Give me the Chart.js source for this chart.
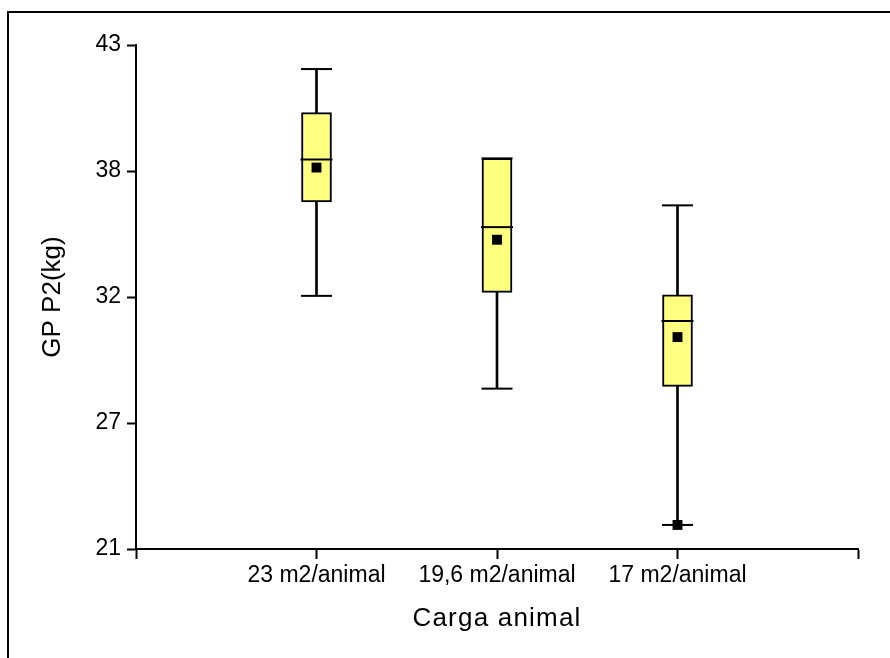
<!DOCTYPE html>
<html lang="es">
<head>
  <meta charset="UTF-8">
  <title>GP P2 según carga animal</title>
  <style>
    html, body {
      margin: 0;
      padding: 0;
      background: white;
      overflow: hidden;
    }
    .frame {
      position: absolute;
      left: 7px;
      top: 11px;
      width: 900px;
      height: 700px;
      border-left: 2px solid black;
      border-top: 2px solid black;
    }
    .chart-box {
      position: absolute;
      left: 0;
      top: 0;
      width: 890px;
      height: 658px;
    }
  </style>
</head>
<body>
  <div class="frame"></div>
  <div class="chart-box">
    <canvas id="box-chart"></canvas>
  </div>

  <script src="https://cdn.jsdelivr.net/npm/chart.js@4.4.0/dist/chart.umd.min.js"></script>
  <script>
    // categorías (posición 1..3 en el eje x)
    const CATEGORIES = ['23 m2/animal', '19,6 m2/animal', '17 m2/animal'];
    const MINS    = [32.05, 28.0, 22.05];
    const Q1S     = [36.15, 32.2, 28.1];
    const MEDIANS = [38.0, 35.05, 30.95];
    const Q3S     = [40.05, 38.05, 32.1];
    const MAXS    = [41.95, 38.05, 36.0];
    const MEANS   = [37.65, 34.5, 30.25];
    const OUTLIERS = [[], [], [22.05]];
    const Y_TICKS = { min: 21, max: 43, step: 5.5 };

    const FONT = "'Liberation Sans', Arial, sans-serif";
    const BOX_FILL = '#FFFF80';

    const xs = CATEGORIES.map((c, i) => i + 1);
    const pts = (vals) => vals.map((v, i) => ({ x: xs[i], y: v }));

    const whiskers = xs.map((x, i) => ({ x, y: [MINS[i], MAXS[i]] }));
    const boxes = xs.map((x, i) => ({ x, y: [Q1S[i], Q3S[i]] }));
    const caps = [...pts(MINS), ...pts(MAXS)];
    const outliers = OUTLIERS.flatMap((vs, i) => vs.map(v => ({ x: xs[i], y: v })));

    // título del eje x con un poco de espaciado entre letras
    function spacedTitle(scale) {
      if (scale._spaced) return;
      scale._spaced = true;
      const orig = scale.drawTitle;
      scale.drawTitle = function() {
        this.ctx.save();
        this.ctx.letterSpacing = '1.2px';
        orig.call(this);
        this.ctx.restore();
      };
    }

    new Chart(document.getElementById('box-chart'), {
      type: 'bar',
      data: {
        datasets: [
          {
            label: 'bigotes',
            data: whiskers,
            backgroundColor: 'black',
            borderWidth: 0,
            barThickness: 2,
            grouped: false,
            order: 5
          },
          {
            label: 'caja',
            data: boxes,
            backgroundColor: BOX_FILL,
            borderColor: 'black',
            borderWidth: 2,
            borderSkipped: false,
            barThickness: 30,
            grouped: false,
            order: 4
          },
          {
            type: 'scatter',
            label: 'extremos',
            data: caps,
            pointStyle: 'line',
            radius: 15.5,
            borderColor: 'black',
            borderWidth: 2,
            order: 3
          },
          {
            type: 'scatter',
            label: 'mediana',
            data: pts(MEDIANS),
            pointStyle: 'line',
            radius: 16,
            borderColor: 'black',
            borderWidth: 2,
            order: 2
          },
          {
            type: 'scatter',
            label: 'media',
            data: [...pts(MEANS), ...outliers],
            pointStyle: 'rect',
            radius: 7,
            backgroundColor: 'black',
            borderWidth: 0,
            order: 1
          }
        ]
      },
      options: {
        responsive: true,
        maintainAspectRatio: false,
        animation: false,
        events: [],
        layout: {
          padding: { left: 0, top: 45, right: 32, bottom: 0 }
        },
        plugins: {
          legend: { display: false },
          tooltip: { enabled: false }
        },
        scales: {
          x: {
            type: 'linear',
            min: 0,
            max: 4,
            offset: false,
            afterFit: (scale) => { scale.height = 109; spacedTitle(scale); },
            border: { display: true, color: 'black', width: 2 },
            grid: {
              display: true,
              offset: false,
              drawOnChartArea: false,
              drawTicks: true,
              tickLength: 10,
              tickWidth: 2,
              color: 'black'
            },
            ticks: {
              stepSize: 1,
              autoSkip: false,
              maxRotation: 0,
              padding: 3,
              color: 'black',
              font: { family: FONT, size: 23 },
              callback: (v) => CATEGORIES[v - 1] || ''
            },
            title: {
              display: true,
              text: 'Carga animal',
              color: 'black',
              font: { family: FONT, size: 26 },
              padding: { top: 0, bottom: 24 }
            }
          },
          y: {
            min: Y_TICKS.min,
            max: Y_TICKS.max,
            afterFit: (scale) => { scale.width = 136; },
            afterBuildTicks: (scale) => {
              const ticks = [];
              for (let v = Y_TICKS.min; v <= Y_TICKS.max + 1e-9; v += Y_TICKS.step) {
                ticks.push({ value: v });
              }
              scale.ticks = ticks;
            },
            border: { display: true, color: 'black', width: 2 },
            grid: {
              display: true,
              drawOnChartArea: false,
              drawTicks: true,
              tickLength: 9,
              tickWidth: 2,
              color: 'black'
            },
            ticks: {
              padding: 6,
              color: 'black',
              font: { family: FONT, size: 23 },
              callback: (v) => Math.round(v)
            },
            title: {
              display: true,
              text: 'GP P2(kg)',
              color: 'black',
              font: { family: FONT, size: 26 },
              padding: { top: 37, bottom: 0 }
            }
          }
        }
      }
    });
  </script>
</body>
</html>
